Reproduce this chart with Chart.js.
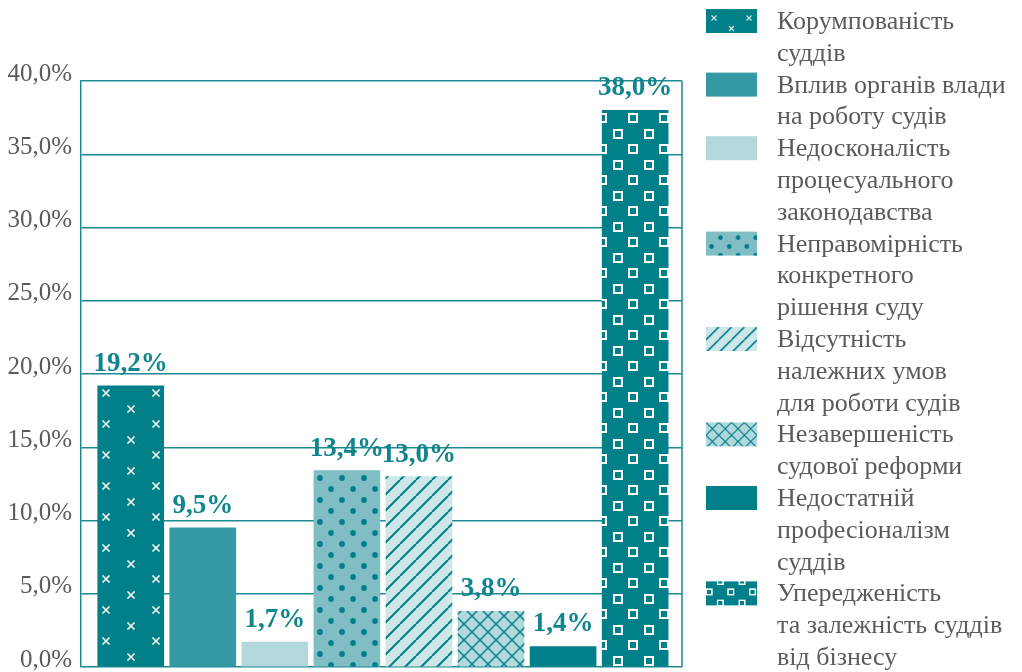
<!DOCTYPE html>
<html lang="uk">
<head>
<meta charset="utf-8">
<script src="https://cdn.jsdelivr.net/npm/chart.js@4.4.0/dist/chart.umd.min.js"></script>
<style>
  html, body { margin: 0; padding: 0; background: #fff; }
  #wrap { width: 1022px; height: 672px; position: relative; }
</style>
</head>
<body>
<div id="wrap"><canvas id="chart"></canvas></div>
<script>
// дані діаграми
const categories = [
  ['Корумпованість', 'суддів'],
  ['Вплив органів влади', 'на роботу судів'],
  ['Недосконалість', 'процесуального', 'законодавства'],
  ['Неправомірність', 'конкретного', 'рішення суду'],
  ['Відсутність', 'належних умов', 'для роботи судів'],
  ['Незавершеність', 'судової реформи'],
  ['Недостатній', 'професіоналізм', 'суддів'],
  ['Упередженість', 'та залежність суддів', 'від бізнесу'],
];
const values = [19.2, 9.5, 1.7, 13.4, 13.0, 3.8, 1.4, 38.0];
const valueLabels = ['19,2%', '9,5%', '1,7%', '13,4%', '13,0%', '3,8%', '1,4%', '38,0%'];
const yTickLabels = ['0,0%', '5,0%', '10,0%', '15,0%', '20,0%', '25,0%', '30,0%', '35,0%', '40,0%'];

const TEAL = '#02808a';
const GRID = '#1d8a91';
const FONT = '"Liberation Serif", "DejaVu Serif", serif';

Chart.defaults.font.family = FONT;

const canvas = document.getElementById('chart');
const mainCtx = canvas.getContext('2d');

// візерунки для стовпців
function makePattern(w, h, bg, draw) {
  const c = document.createElement('canvas');
  c.width = w; c.height = h;
  const g = c.getContext('2d');
  g.fillStyle = bg;
  g.fillRect(0, 0, w, h);
  draw(g, w, h);
  return mainCtx.createPattern(c, 'repeat');
}
function tiled(w, h, pts, fn) {
  pts.forEach(([x, y]) => {
    for (let dx = -1; dx <= 1; dx++) {
      for (let dy = -1; dy <= 1; dy++) fn(x + dx * w, y + dy * h);
    }
  });
}

const crossPat = makePattern(50, 31, TEAL, (g, w, h) => {
  g.strokeStyle = '#fff'; g.lineWidth = 1.6;
  tiled(w, h, [[6, 21], [31, 6]], (x, y) => {
    g.beginPath();
    g.moveTo(x - 3.5, y - 3.5); g.lineTo(x + 3.5, y + 3.5);
    g.moveTo(x + 3.5, y - 3.5); g.lineTo(x - 3.5, y + 3.5);
    g.stroke();
  });
});
const dotPat = makePattern(22, 22, '#80bdc4', (g, w, h) => {
  g.fillStyle = TEAL;
  tiled(w, h, [[12, 16], [1, 5]], (x, y) => {
    g.beginPath(); g.arc(x, y, 2.9, 0, Math.PI * 2); g.fill();
  });
});
const hatchPat = makePattern(16, 16, '#cde6e8', (g, w, h) => {
  g.strokeStyle = TEAL; g.lineWidth = 2;
  for (let k = -1; k <= 1; k++) {
    g.beginPath(); g.moveTo(k * w, h); g.lineTo(k * w + w, 0); g.stroke();
  }
});
const diamondPat = makePattern(16, 16, '#b2d8dc', (g, w, h) => {
  g.strokeStyle = TEAL; g.lineWidth = 1.5;
  for (let k = -1; k <= 1; k++) {
    g.beginPath(); g.moveTo(k * w, 0); g.lineTo(k * w + w, h); g.stroke();
    g.beginPath(); g.moveTo(k * w, h); g.lineTo(k * w + w, 0); g.stroke();
  }
});
const squarePat = makePattern(31, 31, TEAL, (g, w, h) => {
  g.strokeStyle = '#fff'; g.lineWidth = 2;
  tiled(w, h, [[29, 10], [13, 25]], (x, y) => {
    g.strokeRect(x - 4, y - 4, 8, 8);
  });
});

const fills = [crossPat, '#3499a2', '#b2d8dc', dotPat, hatchPat, diamondPat, TEAL, squarePat];
// зсув і масштаб візерунка у квадратиках легенди
const swatchShift = [[-13.7, 4.8, 0.7], [0, 0, 1], [0, 0, 1], [-4, 2, 0.8], [0, 0, 0.8], [0, 0, 0.8], [0, 0, 1], [-6, -7, 0.7]];

// права межа рамки
const frame = {
  id: 'frame',
  beforeDatasetsDraw(chart) {
    const { ctx, chartArea: a } = chart;
    ctx.save();
    ctx.strokeStyle = GRID;
    ctx.lineWidth = 1.5;
    ctx.beginPath();
    ctx.moveTo(a.right, a.top);
    ctx.lineTo(a.right, a.bottom);
    ctx.stroke();
    ctx.restore();
  },
};

// підписи значень над стовпцями
const barLabels = {
  id: 'barLabels',
  afterDatasetsDraw(chart) {
    const ctx = chart.ctx;
    ctx.save();
    ctx.font = 'bold 27px ' + FONT;
    ctx.fillStyle = '#0f858d';
    ctx.textAlign = 'center';
    ctx.textBaseline = 'alphabetic';
    chart.getDatasetMeta(0).data.forEach((bar, i) => {
      ctx.fillText(valueLabels[i], bar.x, bar.y - 15);
    });
    ctx.restore();
  },
};

// легенда праворуч (багаторядкові підписи)
const sideLegend = {
  id: 'sideLegend',
  afterDraw(chart) {
    const ctx = chart.ctx;
    const lineH = 31.8;
    let line = 0;
    ctx.save();
    ctx.font = '26px ' + FONT;
    ctx.textAlign = 'left';
    ctx.textBaseline = 'alphabetic';
    categories.forEach((lines, i) => {
      const base = 29 + line * lineH;
      const [sx, sy, sc] = swatchShift[i];
      ctx.save();
      ctx.translate(706 + sx, base - 20 + sy);
      ctx.scale(sc, sc);
      ctx.fillStyle = fills[i];
      ctx.fillRect(-sx / sc, -sy / sc, 51 / sc, 24 / sc);
      ctx.restore();
      ctx.fillStyle = '#5b5b5b';
      lines.forEach((t, j) => ctx.fillText(t, 777, base + j * lineH));
      line += lines.length;
    });
    ctx.restore();
  },
};

new Chart(mainCtx, {
  type: 'bar',
  data: {
    datasets: [{
      data: values.map((v, i) => ({ x: i, y: v })),
      backgroundColor: fills,
      borderWidth: 0,
      barThickness: 66,
    }],
  },
  options: {
    responsive: true,
    maintainAspectRatio: false,
    animation: false,
    layout: { padding: { top: 81, right: 340, bottom: 5, left: 0 } },
    plugins: {
      legend: { display: false },
      tooltip: { enabled: false },
    },
    scales: {
      x: {
        type: 'linear',
        display: false,
        offset: false,
        min: -0.69,
        max: 7.65,
      },
      y: {
        min: 0,
        max: 40,
        afterFit: (axis) => {
          axis.width = 81;
          axis.paddingTop = 0;
          axis.paddingBottom = 0;
        },
        border: { display: true, color: GRID, width: 1.5 },
        grid: { color: GRID, lineWidth: 1.5, drawTicks: false },
        ticks: {
          stepSize: 5,
          padding: 9,
          labelOffset: -7,
          color: '#5b5b5b',
          font: { size: 25 },
          callback: (val, idx) => yTickLabels[idx],
        },
      },
    },
  },
  plugins: [frame, barLabels, sideLegend],
});
</script>
</body>
</html>
